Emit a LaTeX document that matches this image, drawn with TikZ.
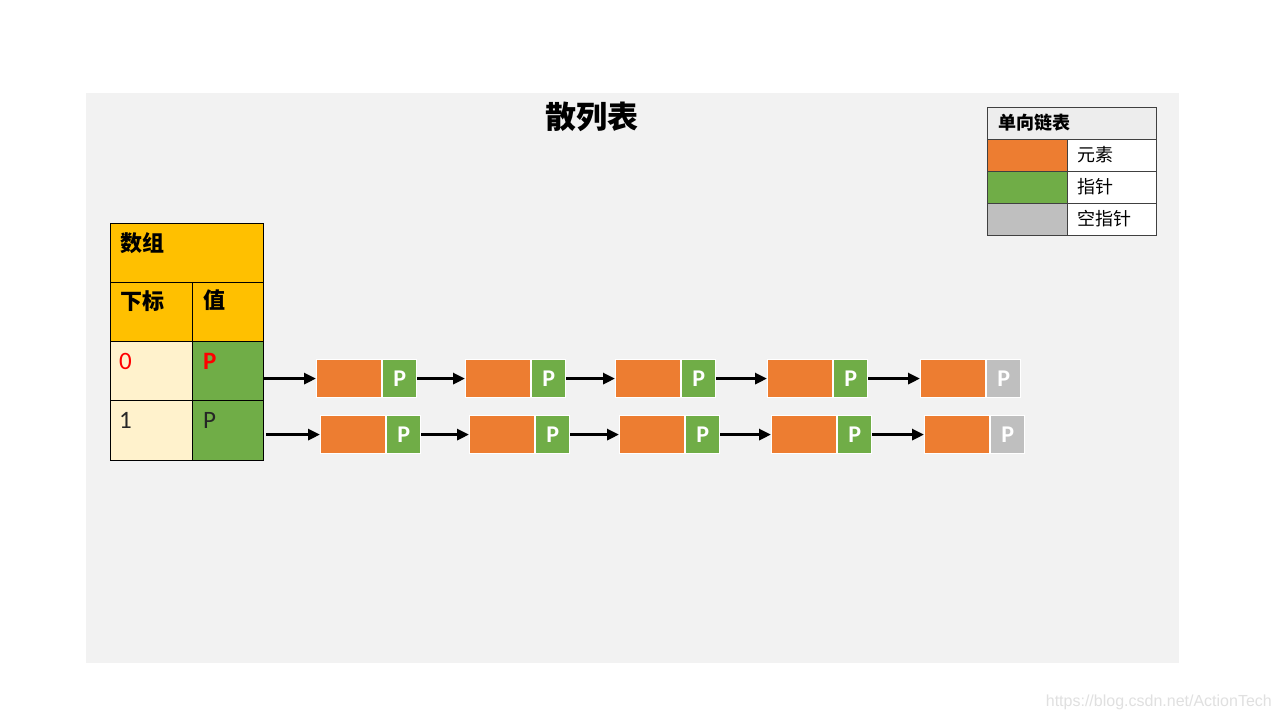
\documentclass[tikz,border=0pt]{standalone}
\usepackage{fontspec}
\setmainfont{Carlito}
\newfontfamily\cjk{Noto Sans CJK SC}
\usetikzlibrary{arrows.meta}
\definecolor{bgpanel}{HTML}{F2F2F2}
\definecolor{hdr}{HTML}{FFC000}
\definecolor{idxc}{HTML}{FFF2CC}
\definecolor{grn}{HTML}{70AD47}
\definecolor{org}{HTML}{ED7D31}
\definecolor{gry}{HTML}{BFBFBF}
\definecolor{lghdr}{HTML}{EDEDED}
\tikzset{
  tcell/.style={draw=black, line width=0.8pt, anchor=north west, inner sep=0pt, minimum height=59pt},
  ttext/.style={anchor=north west, inner sep=0pt, font=\cjk\bfseries\fontsize{22}{26}\selectfont},
  elem/.style={draw=white, line width=1.2pt, fill=org, minimum width=65pt, minimum height=38pt, inner sep=0pt, anchor=north west},
  ptr/.style={draw=white, line width=1.2pt, fill=grn, minimum width=34pt, minimum height=38pt, inner sep=0pt, anchor=west, text=white, font=\bfseries\fontsize{24}{26}\selectfont},
  nptr/.style={ptr, fill=gry},
  link/.style={line width=3pt, -{Triangle[length=12pt,width=11pt]}},
  lcell/.style={draw=black!75, line width=0.8pt, anchor=north west, inner sep=0pt, minimum height=32pt},
  ltext/.style={anchor=west, inner sep=0pt, font=\cjk\fontsize{18}{20}\selectfont}
}
\begin{document}
\begin{tikzpicture}[x=1pt,y=-1pt]
\useasboundingbox (0,0) rectangle (1280,720);
\fill[white] (0,0) rectangle (1280,720);
\fill[bgpanel] (86,93) rectangle (1179,663);
\node[font=\cjk\bfseries\fontsize{31}{34}\selectfont] (title) at (592,117) {散列表};
% array table
\node[tcell, fill=hdr, minimum width=153pt] (arr) at (110,223) {};
\node[tcell, fill=hdr, minimum width=82pt] (hidx) at (110,282) {};
\node[tcell, fill=hdr, minimum width=71pt] (hval) at (192,282) {};
\node[tcell, fill=idxc, minimum width=82pt] (i0) at (110,341) {};
\node[tcell, fill=grn, minimum width=71pt] (v0) at (192,341) {};
\node[tcell, fill=idxc, minimum width=82pt, minimum height=60pt] (i1) at (110,400) {};
\node[tcell, fill=grn, minimum width=71pt, minimum height=60pt] (v1) at (192,400) {};
\node[ttext] (tarr) at (120,232) {数组};
\node[ttext] (tidx) at (120,290) {下标};
\node[ttext] (tval) at (203,290) {值};
\node[anchor=north west, inner sep=0pt, text=red, font=\fontsize{25}{28}\selectfont] (t0) at (119,353) {0};
\node[anchor=north west, inner sep=0pt, text=red, font=\bfseries\fontsize{25}{28}\selectfont] (tp0) at (203,353) {P};
\node[anchor=north west, inner sep=0pt, text=black!85, font=\fontsize{25}{28}\selectfont] (t1) at (119,412) {1};
\node[anchor=north west, inner sep=0pt, text=black!85, font=\fontsize{25}{28}\selectfont] (tp1) at (203,412) {P};
% row 0 list
\node[elem] (e01) at (316,359) {};
\node[ptr] (p01) at (e01.east) {P};
\node[elem] (e02) at (465,359) {};
\node[ptr] (p02) at (e02.east) {P};
\node[elem] (e03) at (615,359) {};
\node[ptr] (p03) at (e03.east) {P};
\node[elem] (e04) at (767,359) {};
\node[ptr] (p04) at (e04.east) {P};
\node[elem] (e05) at (920,359) {};
\node[nptr] (p05) at (e05.east) {P};
% row 1 list
\node[elem] (e11) at (320,415) {};
\node[ptr] (p11) at (e11.east) {P};
\node[elem] (e12) at (469,415) {};
\node[ptr] (p12) at (e12.east) {P};
\node[elem] (e13) at (619,415) {};
\node[ptr] (p13) at (e13.east) {P};
\node[elem] (e14) at (771,415) {};
\node[ptr] (p14) at (e14.east) {P};
\node[elem] (e15) at (924,415) {};
\node[nptr] (p15) at (e15.east) {P};
% links
\draw[link] (v0.east |- e01.west) -- (e01.west);
\draw[link] (p01) -- (e02);
\draw[link] (p02) -- (e03);
\draw[link] (p03) -- (e04);
\draw[link] (p04) -- (e05);
\draw[link] ([xshift=2pt]v1.east |- e11.west) -- (e11.west);
\draw[link] (p11) -- (e12);
\draw[link] (p12) -- (e13);
\draw[link] (p13) -- (e14);
\draw[link] (p14) -- (e15);
% legend
\node[lcell, fill=lghdr, minimum width=169pt] (lg) at (987,107) {};
\node[lcell, fill=org, minimum width=80pt] (lo) at (987,139) {};
\node[lcell, fill=white, minimum width=89pt] (lot) at (1067,139) {};
\node[lcell, fill=grn, minimum width=80pt] (lgn) at (987,171) {};
\node[lcell, fill=white, minimum width=89pt] (lgt) at (1067,171) {};
\node[lcell, fill=gry, minimum width=80pt] (lgy) at (987,203) {};
\node[lcell, fill=white, minimum width=89pt] (lgyt) at (1067,203) {};
\node[ltext, font=\cjk\bfseries\fontsize{18}{20}\selectfont] (lgtitle) at (998,123) {单向链表};
\node[ltext] (l1) at (1077,155) {元素};
\node[ltext] (l2) at (1077,187) {指针};
\node[ltext] (l3) at (1077,219) {空指针};
% watermark
\node[anchor=east, inner sep=0pt, text=black!12, font=\fontspec{Liberation Sans}\fontsize{16}{18}\selectfont] (wm) at (1272,702) {https://blog.csdn.net/ActionTech};
\end{tikzpicture}
\end{document}
